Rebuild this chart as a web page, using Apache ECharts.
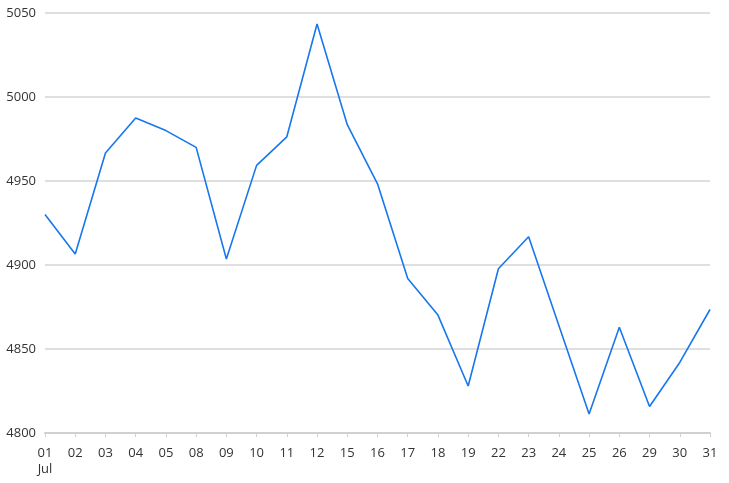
<!DOCTYPE html>
<html>
<head>
<meta charset="utf-8">
<script src="https://cdn.jsdelivr.net/npm/echarts@6/dist/echarts.min.js"></script>
<style>html,body{margin:0;padding:0;background:#fff}#c{width:729px;height:483px}</style>
</head>
<body>
<div id="c"></div>
<script>
const days = ['01','02','03','04','05','08','09','10','11','12','15','16','17','18','19','22','23','24','25','26','29','30','31'];
const monthLabel = 'Jul';
const values = [4930, 4906.5, 4966.7, 4987.5, 4980, 4970, 4903.6, 4959.3, 4976.3, 5043.5, 4983.5, 4948.3, 4892, 4870.2, 4828, 4897.8, 4916.8, 4864, 4811.3, 4863, 4815.8, 4842, 4873.5];
const yMin = 4800, yMax = 5050, yStep = 50;

const chart = echarts.init(document.getElementById('c'), null, {renderer: 'canvas'});
chart.setOption({
  animation: false,
  grid: {left: 45, right: 19, top: 13, bottom: 50, containLabel: false},
  xAxis: {
    type: 'category',
    data: days,
    boundaryGap: false,
    axisLine: {lineStyle: {color: '#cfcfd4', width: 2}},
    axisTick: {show: true, length: 4, lineStyle: {color: '#cfcfd4', width: 1}},
    axisLabel: {
      interval: 0, margin: 12, color: '#333', fontFamily: 'Open Sans', fontSize: 13, lineHeight: 16,
      formatter: (v, i) => i === 0 ? v + '\n' + monthLabel : v
    },
    splitLine: {show: false}
  },
  yAxis: {
    type: 'value',
    min: yMin, max: yMax, interval: yStep,
    axisLine: {show: false},
    axisTick: {show: false},
    axisLabel: {margin: 9, color: '#333', fontFamily: 'Open Sans', fontSize: 13, formatter: v => String(v)},
    splitLine: {lineStyle: {color: '#d4d4d8', width: 1.5}}
  },
  series: [{
    type: 'line',
    data: values,
    showSymbol: false,
    lineStyle: {color: '#1677ee', width: 1.6},
    itemStyle: {color: '#1677ee'}
  }]
});
</script>
</body>
</html>
